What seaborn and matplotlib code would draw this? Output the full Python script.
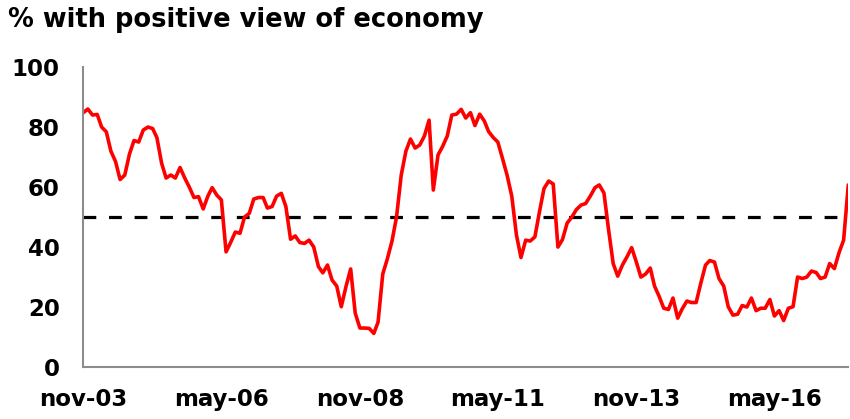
import matplotlib
matplotlib.use('Agg')
import matplotlib.pyplot as plt
import seaborn as sns
import pandas as pd

# Monthly share (%) with a positive view of the economy, nov-03 onwards
start_month = '2003-11-01'
positive_view = [
    84.8, 86.0, 84.0, 84.2, 80.0, 78.4, 72.0, 68.5, 62.5, 64.0,
    71.0, 75.5, 75.0, 79.0, 80.0, 79.5, 76.5, 68.0, 63.0, 64.0,
    63.0, 66.5, 63.0, 60.0, 56.5, 56.8, 52.7, 57.0, 59.8, 57.3,
    55.7, 38.4, 41.5, 45.0, 44.6, 50.0, 51.2, 56.0, 56.5, 56.5,
    53.0, 53.5, 57.0, 57.9, 53.5, 42.6, 43.7, 41.5, 41.2, 42.3,
    40.0, 33.5, 31.4, 34.0, 29.0, 27.0, 20.1, 26.8, 32.7, 18.0,
    13.0, 13.0, 12.9, 11.2, 15.0, 31.0, 36.0, 42.0, 50.0, 64.0,
    72.0, 76.0, 73.0, 74.0, 77.0, 82.3, 59.0, 70.7, 73.5, 77.0,
    84.0, 84.3, 85.9, 83.0, 84.8, 80.5, 84.3, 82.0, 78.5, 76.5,
    75.0, 69.5, 64.0, 57.0, 44.0, 36.5, 42.3, 42.0, 43.4, 52.0,
    59.5, 62.0, 61.0, 40.0, 42.5, 48.0, 50.0, 52.5, 54.0, 54.5,
    57.0, 59.8, 60.7, 58.0, 46.0, 34.5, 30.3, 34.0, 36.8, 39.8,
    35.0, 30.0, 31.0, 33.0, 27.0, 23.5, 19.6, 19.2, 23.0, 16.3,
    19.5, 22.0, 21.5, 21.5, 28.0, 34.0, 35.5, 35.0, 29.5, 27.0,
    20.1, 17.3, 17.6, 20.5, 20.0, 23.0, 18.8, 19.6, 19.6, 22.5,
    17.0, 18.8, 15.5, 19.6, 20.1, 30.0, 29.5, 30.0, 32.0, 31.5,
    29.5, 30.0, 34.5, 32.8, 38.0, 42.3, 60.7,
]
threshold = 50
y_ticks = [0, 20, 40, 60, 80, 100]
title = '% with positive view of economy'

df = pd.DataFrame({
    'month': pd.date_range(start_month, periods=len(positive_view), freq='MS'),
    'value': positive_view,
})

sns.set_style('white')
plt.rcParams['font.family'] = ['DejaVu Sans']
plt.rcParams['font.weight'] = 'bold'

fig = plt.figure(figsize=(8.5, 4.19), dpi=100)
ax = fig.add_axes([0.098, 0.124, 0.900, 0.716])

sns.lineplot(data=df, x='month', y='value', color='#ff0000', linewidth=2.6, ax=ax)
ax.lines[0].set_solid_joinstyle('round')
ax.axhline(threshold, color='black', linewidth=2.3, linestyle=(0, (4, 4)), zorder=1)

ax.set_xlim(df['month'].iloc[0], df['month'].iloc[-1])
ax.set_ylim(0, 100)
ax.set_yticks(y_ticks)

# one tick every 30 months, labelled like "nov-03"
x_ticks = pd.date_range(start_month, df['month'].iloc[-1], freq='30MS')
ax.set_xticks(x_ticks)
ax.set_xticklabels([d.strftime('%b-%y').lower() for d in x_ticks])

ax.set_xlabel('')
ax.set_ylabel('')
for side in ['top', 'right']:
    ax.spines[side].set_visible(False)
for side in ['left', 'bottom']:
    ax.spines[side].set_color('#8c8c8c')
    ax.spines[side].set_linewidth(1.5)

ax.tick_params(axis='both', direction='out', length=6, width=1, color='#8c8c8c',
               labelsize=16.5, labelcolor='black')
ax.tick_params(axis='y', pad=11)
ax.tick_params(axis='x', pad=9)
for lbl in ax.get_xticklabels() + ax.get_yticklabels():
    lbl.set_fontweight('bold')

fig.text(0.009, 0.953, title, fontsize=18.5, fontweight='bold', color='black',
         ha='left', va='center')

plt.savefig('out.png', dpi=100)
